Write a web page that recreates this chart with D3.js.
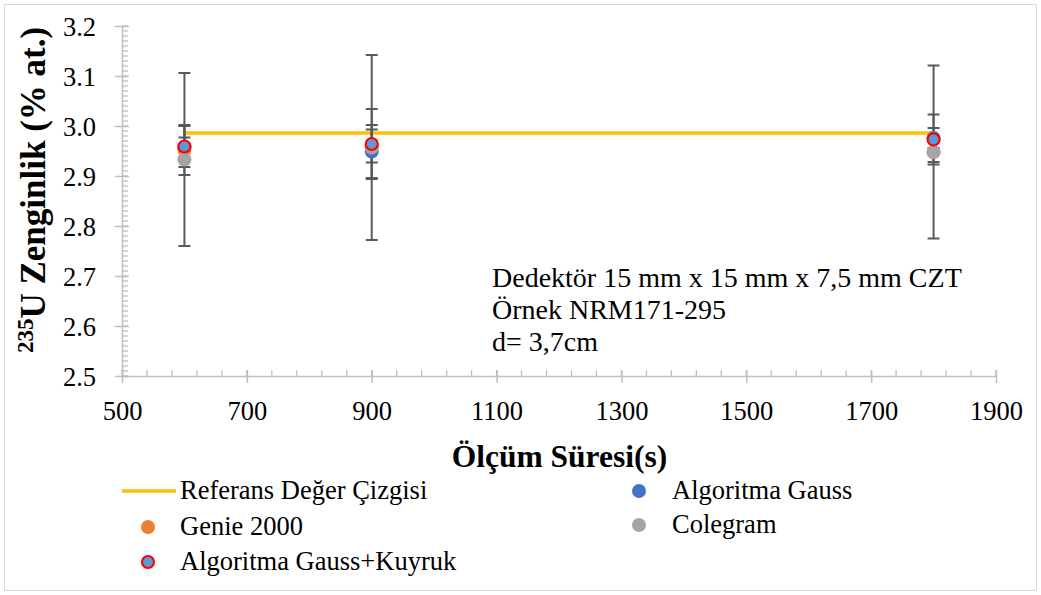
<!DOCTYPE html>
<html><head><meta charset="utf-8">
<script src="https://cdn.jsdelivr.net/npm/d3@7"></script>
</head><body style="margin:0">
<script>
// ---- data ----
const xValues = [600, 900, 1800];
const refValues = [2.986, 2.986, 2.986];
const gaussValues = [2.957, 2.949, 2.976];
const gaussErr = [0.02, 0.053, 0.02];
const genieValues = [2.952, 2.96, 2.948];
const genieErr = [0.05, 0.033, 0.02];
const colegramValues = [2.933, 2.957, 2.948];
const colegramErr = [0.173, 0.185, 0.173];
const kuyrukValues = [2.959, 2.964, 2.973];
const kuyrukErr = [0.041, 0.07, 0.05];
const xTicks = [500, 700, 900, 1100, 1300, 1500, 1700, 1900];
const yTicks = [2.5, 2.6, 2.7, 2.8, 2.9, 3.0, 3.1, 3.2];
const seriesNames = ["Referans Değer Çizgisi", "Algoritma Gauss", "Genie 2000", "Colegram", "Algoritma Gauss+Kuyruk"];
const annotation = ["Dedektör 15 mm x 15 mm x 7,5 mm CZT", "Örnek NRM171-295", "d= 3,7cm"];

const FONT = "Liberation Serif";
const W = 1041, H = 595;
const svg = d3.select("body").append("svg").attr("width", W).attr("height", H).style("display", "block");
svg.append("rect").attr("x", 4.5).attr("y", 4.5).attr("width", W - 9).attr("height", H - 9)
  .attr("fill", "#fff").attr("stroke", "#d9d9d9").attr("stroke-width", 1);

const x = d3.scaleLinear().domain([500, 1900]).range([122, 996]);
const y = d3.scaleLinear().domain([2.5, 3.2]).range([376, 26]);
const axisColor = "#bfbfbf";

// minor ticks
const g = svg.append("g");
const xMinor = d3.range(500, 1900.1, 40);
g.selectAll(".xm").data(xMinor).join("line")
  .attr("x1", d => x(d)).attr("x2", d => x(d)).attr("y1", y(2.5) - 6).attr("y2", y(2.5))
  .attr("stroke", axisColor).attr("stroke-width", 1.3);
const yMinor = d3.range(0, 71).map(i => 2.5 + i * 0.01);
g.selectAll(".ym").data(yMinor).join("line")
  .attr("x1", x(500)).attr("x2", x(500) + 6).attr("y1", d => y(d)).attr("y2", d => y(d))
  .attr("stroke", axisColor).attr("stroke-width", 1.3);

// axes
const xAxis = d3.axisBottom(x).tickValues(xTicks).tickSizeInner(6).tickSizeOuter(0).tickFormat(d3.format("d"));
const gx = svg.append("g").attr("transform", `translate(0,${y(2.5)})`).call(xAxis);
gx.attr("font-family", FONT).attr("font-size", 26.5);
gx.select(".domain").attr("stroke", axisColor).attr("stroke-width", 1.5);
gx.selectAll(".tick line").attr("stroke", axisColor).attr("stroke-width", 1.5).attr("y1", -6).attr("y2", 7);
gx.selectAll(".tick text").attr("font-family", FONT).attr("font-size", 26.5).attr("dy", 0).attr("y", 44).attr("fill", "#000");

const yAxis = d3.axisLeft(y).tickValues(yTicks).tickSizeInner(7).tickSizeOuter(0).tickFormat(d3.format(".1f"));
const gy = svg.append("g").attr("transform", `translate(${x(500)},0)`).call(yAxis);
gy.attr("font-family", FONT).attr("font-size", 26.5);
gy.select(".domain").attr("stroke", axisColor).attr("stroke-width", 1.5);
gy.selectAll(".tick line").attr("stroke", axisColor).attr("stroke-width", 1.5).attr("x1", 7).attr("x2", -7);
gy.selectAll(".tick text").attr("font-family", FONT).attr("font-size", 26.5).attr("x", -26).attr("dy", "0.35em").attr("fill", "#000");

// reference line
const line = d3.line().x((d, i) => x(xValues[i])).y(d => y(d));
svg.append("path").datum(refValues).attr("d", line).attr("fill", "none")
  .attr("stroke", "#ffc000").attr("stroke-width", 3.5);

// series
const series = [
  {vals: gaussValues, err: gaussErr, fill: "#4472c4", stroke: "#4472c4", sw: 0},
  {vals: genieValues, err: genieErr, fill: "#ed7d31", stroke: "#ed7d31", sw: 0},
  {vals: colegramValues, err: colegramErr, fill: "#a5a5a5", stroke: "#a5a5a5", sw: 0},
  {vals: kuyrukValues, err: kuyrukErr, fill: "#5b9bd5", stroke: "#ff0000", sw: 2.2}
];
const eg = svg.append("g");
series.forEach(s => {
  xValues.forEach((xv, i) => {
    const cx = x(xv), lo = y(s.vals[i] - s.err[i]), hi = y(s.vals[i] + s.err[i]);
    eg.append("line").attr("x1", cx).attr("x2", cx).attr("y1", lo).attr("y2", hi).attr("stroke", "#595959").attr("stroke-width", 2);
    [lo, hi].forEach(yy => eg.append("line").attr("x1", cx - 6).attr("x2", cx + 6).attr("y1", yy).attr("y2", yy).attr("stroke", "#595959").attr("stroke-width", 2));
  });
});
series.forEach(s => {
  svg.append("g").selectAll("circle").data(s.vals).join("circle")
    .attr("cx", (d, i) => x(xValues[i])).attr("cy", d => y(d))
    .attr("r", s.sw ? 6 : 7).attr("fill", s.fill).attr("stroke", s.sw ? s.stroke : "none").attr("stroke-width", s.sw);
});

// annotation
const ann = svg.append("text").attr("x", 492).attr("font-size", 28).attr("font-family", FONT);
annotation.forEach((t, i) => ann.append("tspan").attr("x", 492).attr("y", 287 + i * 32).text(t));

// axis titles
svg.append("text").attr("x", 559.5).attr("y", 467).attr("text-anchor", "middle").attr("font-family", FONT)
  .attr("font-size", 31.5).attr("font-weight", "bold").text("Ölçüm Süresi(s)");
const yt = svg.append("text").attr("transform", "translate(45,190) rotate(-90)").attr("text-anchor", "middle")
  .attr("font-family", FONT).attr("font-size", 35).attr("font-weight", "bold");
yt.append("tspan").attr("font-size", 23).attr("dy", -12).text("235");
yt.append("tspan").attr("dy", 12).text("U Zenginlik (% at.)");

// legend
const leg = svg.append("g").attr("font-size", 26.5).attr("font-family", FONT);
const legItems = [
  {name: seriesNames[0], type: "line", lx: 122, ly: 491},
  {name: seriesNames[1], type: "dot", s: series[0], lx: 639, ly: 491},
  {name: seriesNames[2], type: "dot", s: series[1], lx: 148, ly: 527},
  {name: seriesNames[3], type: "dot", s: series[2], lx: 639, ly: 525},
  {name: seriesNames[4], type: "dot", s: series[3], lx: 148, ly: 562}
];
legItems.forEach(it => {
  if (it.type === "line") {
    leg.append("line").attr("x1", it.lx).attr("x2", it.lx + 54).attr("y1", it.ly).attr("y2", it.ly)
      .attr("stroke", "#ffc000").attr("stroke-width", 3.5);
  } else {
    leg.append("circle").attr("cx", it.lx).attr("cy", it.ly).attr("r", it.s.sw ? 6 : 7)
      .attr("fill", it.s.fill).attr("stroke", it.s.sw ? it.s.stroke : "none").attr("stroke-width", it.s.sw);
  }
  const tx = it.lx < 400 ? 180 : 672;
  leg.append("text").attr("x", tx).attr("y", it.ly + 8).attr("font-family", FONT).text(it.name);
});
</script>
</body></html>
